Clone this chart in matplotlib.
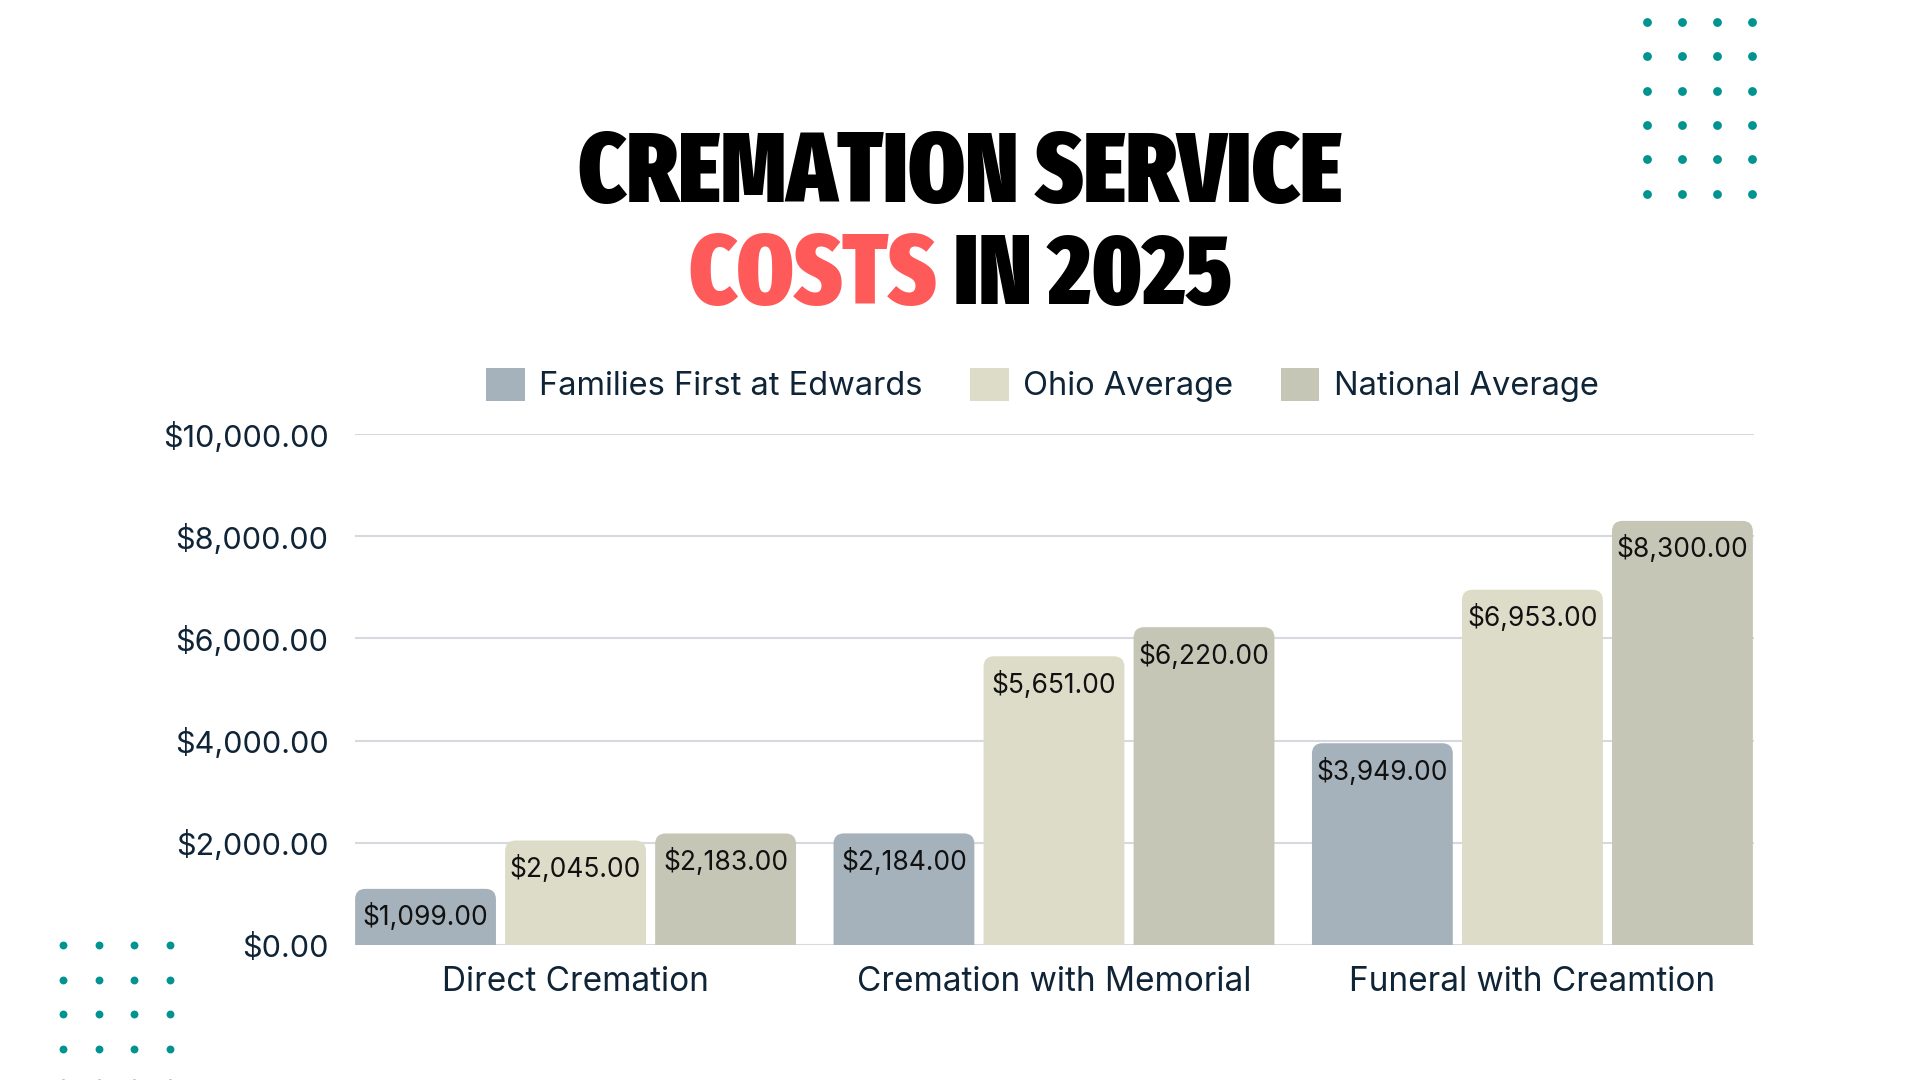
import numpy as np
import matplotlib
matplotlib.use("Agg")
import matplotlib.pyplot as plt
from matplotlib import font_manager
from matplotlib.patches import FancyBboxPatch, Patch
from matplotlib.ticker import FuncFormatter

categories = ["Direct Cremation", "Cremation with Memorial", "Funeral with Creamtion"]
series_names = ["Families First at Edwards", "Ohio Average", "National Average"]
families_first = [1099, 2184, 3949]
ohio_avg = [2045, 5651, 6953]
national_avg = [2183, 6220, 8300]
y_ticks = [0, 2000, 4000, 6000, 8000, 10000]

colors = ["#A6B2BB", "#DDDCC8", "#C5C6B6"]
navy = "#0F2436"
teal = "#00938F"
red = "#FF5A5A"

installed = {f.name for f in font_manager.fontManager.ttflist}
body_font = "Inter" if "Inter" in installed else "DejaVu Sans"
plt.rcParams["font.family"] = [body_font, "DejaVu Sans"]


def weight_num(w):
    if isinstance(w, (int, float)):
        return w
    return font_manager.weight_dict.get(str(w).lower(), 400)


def narrowness(f):
    key = (f.fname + " " + f.name).lower().replace(" ", "").replace("-", "")
    st = str(f.stretch).lower().replace("-", "")
    if "ultracondensed" in key or st == "ultracondensed":
        return 4
    if "extracondensed" in key or st == "extracondensed":
        return 3
    if "semicondensed" in key or st == "semicondensed":
        return 1
    if "condensed" in key or "narrow" in key or "cond" in key or st == "condensed":
        return 2
    return 0


# extra-condensed is closest to the poster face, then ultra, then condensed
pref = {3: 4, 4: 3, 2: 2, 1: 1, 0: 0}
cands = [f for f in font_manager.fontManager.ttflist
         if narrowness(f) > 0 and weight_num(f.weight) >= 700
         and "italic" not in f.fname.lower() and f.style == "normal"]
cands.sort(key=lambda f: (pref[narrowness(f)], weight_num(f.weight)), reverse=True)
if cands:
    title_prop = font_manager.FontProperties(fname=cands[0].fname)
else:
    title_prop = font_manager.FontProperties(family="DejaVu Sans", weight="bold")

fig = plt.figure(figsize=(19.2, 10.8), dpi=100)
fig.patch.set_facecolor("white")

ax = fig.add_axes([0.1849, 0.125, 0.7286, 0.4731])
x = np.arange(len(categories))
bar_w = 0.2944
step = 0.3136
all_series = [families_first, ohio_avg, national_avg]

for i, vals in enumerate(all_series):
    bars = ax.bar(x + (i - 1) * step, vals, width=bar_w, color=colors[i], zorder=2)
    for rect, v in zip(bars, vals):
        rect.set_visible(False)
        r = FancyBboxPatch((rect.get_x(), -600), rect.get_width(), v + 600,
                           boxstyle="round,pad=0,rounding_size=0.022",
                           mutation_aspect=9300, facecolor=colors[i],
                           edgecolor="none", zorder=2, clip_on=True)
        ax.add_patch(r)
        ax.annotate(f"${v:,.2f}", xy=(rect.get_x() + rect.get_width() / 2, v),
                    xytext=(0, -20.5), textcoords="offset points",
                    ha="center", va="center", fontsize=19, color="#111111", zorder=3)

ax.set_xlim(-0.461, 2.463)
ax.set_ylim(0, 10000)
ax.set_yticks(y_ticks)
ax.yaxis.set_major_formatter(FuncFormatter(lambda v, p: f"${v:,.2f}"))
ax.set_xticks(x)
ax.set_xticklabels(categories)
ax.tick_params(axis="y", length=0, pad=19, labelsize=22, labelcolor=navy)
ax.tick_params(axis="x", length=0, pad=15, labelsize=24, labelcolor=navy)
ax.grid(axis="y", color="#D6DADE", linewidth=1.5, zorder=0)
ax.set_axisbelow(True)
for s in ax.spines.values():
    s.set_visible(False)

handles = [Patch(facecolor=c, edgecolor="none") for c in colors]
fig.legend(handles, series_names, loc="center", bbox_to_anchor=(0.543, 0.6435),
           ncol=3, frameon=False, fontsize=23.5, labelcolor=navy,
           handlelength=1.18, handleheight=1.2, handletextpad=0.45,
           columnspacing=1.45)

# title: size chosen so the first line spans about 764 px
renderer = fig.canvas.get_renderer()
size = 84
line1 = fig.text(0.5, 0.813, "CREMATION SERVICE", ha="center", va="baseline",
                 fontproperties=title_prop, color="black")
line1.set_fontsize(size)
w = line1.get_window_extent(renderer).width
size = max(60, min(112, size * 764 / w))
line1.set_fontsize(size)

t1 = fig.text(0, 0.7185, "COSTS", ha="left", va="baseline",
              fontproperties=title_prop, color=red)
t2 = fig.text(0, 0.7185, " IN 2025", ha="left", va="baseline",
              fontproperties=title_prop, color="black")
t1.set_fontsize(size)
t2.set_fontsize(size)
w1 = t1.get_window_extent(renderer).width
w2 = t2.get_window_extent(renderer).width
start = (1920 - (w1 + w2)) / 2 / 1920
t1.set_x(start)
t2.set_x(start + w1 / 1920)

# decorative dot grids
deco = fig.add_axes([0, 0, 1, 1], zorder=-1)
deco.set_xlim(0, 1920)
deco.set_ylim(1080, 0)
deco.axis("off")
gx, gy = np.meshgrid(1647 + 35 * np.arange(4), 22 + 34.3 * np.arange(6))
deco.scatter(gx.ravel(), gy.ravel(), s=40, color=teal, linewidths=0)
gx, gy = np.meshgrid(63 + 35.5 * np.arange(4), 945 + 34.5 * np.arange(5))
deco.scatter(gx.ravel(), gy.ravel(), s=32, color=teal, linewidths=0)

fig.savefig("out.png", dpi=100)
